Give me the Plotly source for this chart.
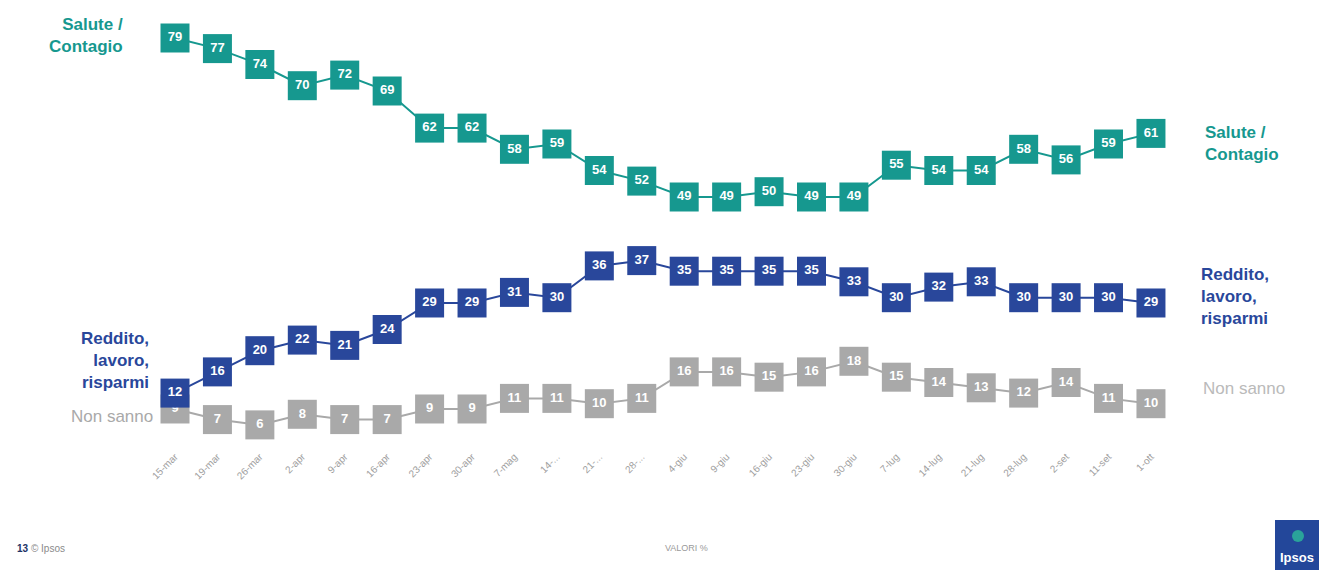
import plotly.graph_objects as go

# Survey waves (2020)
dates = ["15-mar", "19-mar", "26-mar", "2-apr", "9-apr", "16-apr", "23-apr", "30-apr",
         "7-mag", "14-...", "21-...", "28-...", "4-giu", "9-giu", "16-giu", "23-giu",
         "30-giu", "7-lug", "14-lug", "21-lug", "28-lug", "2-set", "11-set", "1-ott"]

salute = [79, 77, 74, 70, 72, 69, 62, 62, 58, 59, 54, 52, 49, 49, 50, 49, 49, 55, 54, 54, 58, 56, 59, 61]
reddito = [12, 16, 20, 22, 21, 24, 29, 29, 31, 30, 36, 37, 35, 35, 35, 35, 33, 30, 32, 33, 30, 30, 30, 29]
non_sanno = [9, 7, 6, 8, 7, 7, 9, 9, 11, 11, 10, 11, 16, 16, 15, 16, 18, 15, 14, 13, 12, 14, 11, 10]

TEAL = "#16988f"
BLUE = "#29479b"
GREY = "#a9a9a9"
FONT = "Liberation Sans, Arial, sans-serif"

W, H, B = 1319, 570, 122
PLOT_H = H - B


def px(xp):
    return xp / W


def py(yp):
    return (PLOT_H - yp) / PLOT_H


x = list(range(len(dates)))

fig = go.Figure()
for vals, col in [(non_sanno, GREY), (reddito, BLUE), (salute, TEAL)]:
    fig.add_trace(go.Scatter(
        x=x, y=vals, text=vals,
        mode="lines+markers+text",
        line=dict(color=col, width=2),
        marker=dict(symbol="square", size=29, color=col, line=dict(width=0)),
        texttemplate="<b>%{text}</b>",
        textposition="middle center",
        textfont=dict(color="white", size=13, family=FONT),
        hoverinfo="skip",
        showlegend=False,
    ))

# Series names at both ends of the lines
labels = [
    (125, 35, "right", "<b>Salute /<br>Contagio</b>", TEAL, 17),
    (151, 360, "right", "<b>Reddito,<br>lavoro,<br>risparmi</b>", BLUE, 17),
    (155, 416, "right", "Non sanno", GREY, 17),
    (1203, 143, "left", "<b>Salute /<br>Contagio</b>", TEAL, 17),
    (1199, 296, "left", "<b>Reddito,<br>lavoro,<br>risparmi</b>", BLUE, 17),
    (1201, 388, "left", "Non sanno", "#bababa", 17),
]
for lx, ly, anchor, txt, col, sz in labels:
    fig.add_annotation(x=px(lx), y=py(ly), xref="paper", yref="paper", text=txt,
                       showarrow=False, xanchor=anchor, yanchor="middle", align=anchor,
                       font=dict(color=col, size=sz, family=FONT))

# Footer
fig.add_annotation(x=px(15), y=py(548), xref="paper", yref="paper", xanchor="left",
                   yanchor="middle", showarrow=False,
                   text="<b style='color:#223366'>13</b> © Ipsos",
                   font=dict(size=10, color="#8a8a8a", family=FONT))
fig.add_annotation(x=px(686), y=py(548), xref="paper", yref="paper", xanchor="center",
                   yanchor="middle", showarrow=False, text="VALORI %",
                   font=dict(size=9, color="#9a9a9a", family=FONT))

# Ipsos logo tile
fig.add_shape(type="rect", xref="paper", yref="paper",
              x0=px(1275), x1=px(1330), y0=py(575), y1=py(520),
              fillcolor="#23479a", line=dict(width=0), layer="above")
fig.add_shape(type="circle", xref="paper", yref="paper",
              x0=px(1292), x1=px(1304), y0=py(542), y1=py(530),
              fillcolor="#2aa39a", line=dict(width=0), layer="above")
fig.add_annotation(x=px(1278), y=py(557), xref="paper", yref="paper", xanchor="left",
                   yanchor="middle", showarrow=False, text="<b>Ipsos</b>",
                   font=dict(size=13, color="white", family=FONT))

fig.update_layout(
    width=W, height=H,
    margin=dict(l=0, r=0, t=0, b=B),
    paper_bgcolor="white", plot_bgcolor="white",
    xaxis=dict(range=[-4.124, 26.96], tickmode="array", tickvals=x, ticktext=dates,
               tickangle=-45, tickfont=dict(size=10, color="#a0a0a0", family=FONT),
               showgrid=False, zeroline=False, showline=False, ticks=""),
    yaxis=dict(range=[1.64, 86.17], visible=False, showgrid=False, zeroline=False),
)

fig.write_html("out.html")
